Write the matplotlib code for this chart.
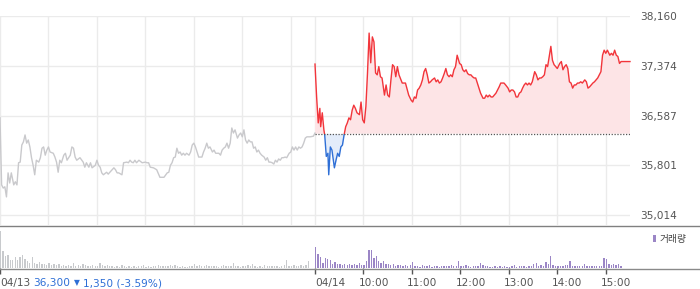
import numpy as np
import matplotlib
matplotlib.use("Agg")
import matplotlib.pyplot as plt
from matplotlib.patches import Rectangle
from matplotlib.lines import Line2D
from matplotlib.transforms import ScaledTranslation

plt.rcParams['font.family'] = ['DejaVu Sans', 'Noto Sans CJK KR']

# price, day 1 (04/13) - minutes after 09:00
day1_min = [0, 2, 4, 6, 8, 10, 12, 14, 17, 19, 21, 23, 25, 27, 29, 31, 33, 35, 37, 39,
            41, 43, 45, 48, 50, 52, 54, 56, 58, 60, 62, 66, 68, 70, 72, 74, 76, 79, 81, 83,
            85, 87, 89, 91, 93, 95, 99, 103, 105, 107, 110, 112, 114, 118, 120, 122, 124,
            126, 128, 132, 134, 136, 141, 143, 145, 147, 151, 153, 157, 159, 161, 163, 165,
            167, 169, 172, 176, 180, 182, 184, 186, 190, 194, 198,
            203, 207, 209, 211, 213, 215, 217, 219, 221, 223, 225, 227, 229, 231, 234, 236,
            238, 240, 242, 244, 246, 250, 252, 254, 256, 258, 260, 263, 265, 267, 271, 273,
            275, 277, 279, 281, 283, 285, 287, 289, 291, 294, 296, 298, 300, 302, 304, 306,
            308, 310, 312, 314, 316, 318, 320, 322, 324, 327, 329, 331, 333, 335, 337, 339,
            341, 343, 345, 347, 349, 351, 353, 355, 358, 360, 362, 364, 366, 368, 370, 372,
            374, 376, 378, 380, 384, 388, 390]
day1_price = [36550, 35490, 35440, 35460, 35300, 35680, 35520, 35680, 35490, 35540,
              35490, 35840, 35850, 36120, 36170, 36280, 36150, 36200, 36090, 35920,
              35800, 35650, 35880, 35850, 35920, 36070, 36090, 35960, 36040, 36090,
              36010, 35990, 35930, 35850, 35690, 35880, 35840, 35960, 35990, 35880,
              35920, 35960, 36090, 36070, 35930, 35880, 35920, 35850, 35770, 35840,
              35770, 35840, 35760, 35800, 35880, 35800, 35770, 35680, 35650, 35690,
              35660, 35690, 35760, 35730, 35680, 35680, 35650, 35840, 35850, 35840,
              35880, 35850, 35840, 35880, 35840, 35880, 35840, 35850, 35840, 35840,
              35770, 35760, 35730, 35610,
              35610, 35680, 35690, 35800, 35840, 35920, 35930, 36070, 35990,
              36010, 35960, 35990, 35960, 35990, 35960, 36010, 36120, 36150, 36090,
              36010, 35930, 35930, 36010, 36070, 36150, 36070, 36090, 36010, 36040,
              35990, 35990, 35960, 36040, 36070, 36090, 36150, 36070, 36150, 36390,
              36310, 36360, 36230, 36280, 36310, 36250, 36360, 36200, 36150, 36200,
              36170, 36170, 36070, 36090, 36010, 36040, 35990, 35960, 35930, 35880,
              35920, 35850, 35850, 35840, 35820, 35880, 35850, 35900, 35880, 35920,
              35920, 35930, 35920, 35990, 36010, 36090, 36040, 36090, 36040, 36090,
              36070, 36090, 36150, 36230, 36250, 36250, 36260, 36310]

# price, day 2 (04/14)
day2_min = [0, 2, 4, 6, 7, 9, 11, 12, 14, 16, 17, 19, 21, 24, 26, 28, 30, 32, 34, 36, 38, 40,
            42, 44, 46, 48, 50, 52, 55, 57, 59, 61, 63, 65, 67, 69, 71, 73, 75, 77, 79, 81,
            83, 86, 88, 90, 92, 94, 96, 98, 100, 102, 104, 108, 112, 116, 119, 121, 123, 125,
            127, 129, 131, 133, 135, 137, 139, 141, 143, 145, 148, 150, 152, 154, 156, 158,
            160, 162, 164, 166, 168, 170, 172, 174, 176, 179, 181, 183, 185, 187, 189, 191,
            193, 195, 197, 199, 201, 203, 205, 208, 210, 212, 214, 216, 218, 220, 222, 224,
            226, 228, 230, 232, 234, 236, 239, 241, 243, 245, 247, 249, 251, 253, 255, 257,
            259, 261, 263, 265, 267, 269, 272, 274, 276, 278, 280, 282, 284, 286, 288, 290,
            292, 294, 296, 298, 300, 303, 305, 307, 309, 311, 313, 315, 317, 319, 321, 323,
            325, 327, 329, 331, 334, 336, 338, 340, 342, 344, 346, 348, 350, 352, 354, 356,
            358, 360, 362, 365, 367, 369, 371, 373, 375, 377, 379, 390]
day2_price = [37400, 36880, 36470, 36700, 36410, 36630, 36360, 36280, 35940, 35990, 35650,
              36090, 36040, 35760, 35880, 35990, 35940, 36090, 36120, 36280, 36410, 36470,
              36550, 36520, 36670, 36750, 36700, 36630, 36600, 36800, 36520, 36470, 36730,
              37260, 37890, 37420, 37830, 37750, 37260, 37230, 37360, 37200, 37180, 36910,
              37070, 36910, 36880, 37150, 37390, 37360, 37200, 37360, 37230, 37100, 37100,
              36910, 36830, 36800, 36880, 36860, 36990, 37020, 37070, 37150, 37280, 37330,
              37230, 37100, 37120, 37150, 37180, 37120, 37150, 37100, 37120, 37180, 37250,
              37330, 37230, 37200, 37230, 37200, 37310, 37360, 37540, 37410, 37390, 37310,
              37280, 37310, 37250, 37230, 37230, 37200, 37180, 37180, 37100, 37020, 36940,
              36860, 36860, 36910, 36880, 36910, 36880, 36880, 36910, 36940, 36990, 37040,
              37100, 37100, 37100, 37070, 37020, 36960, 36990, 36990, 36960, 36880, 36880,
              36940, 36960, 37020, 37070, 37100, 37070, 37100, 37070, 37120, 37280, 37230,
              37150, 37180, 37180, 37200, 37230, 37390, 37360, 37520, 37680, 37460, 37390,
              37360, 37330, 37410, 37440, 37310, 37360, 37390, 37330, 37120, 37100, 37020,
              37070, 37070, 37100, 37100, 37120, 37100, 37150, 37120, 37020, 37040, 37070,
              37100, 37120, 37150, 37180, 37230, 37280, 37540, 37620, 37570, 37620, 37540,
              37570, 37540, 37620, 37540, 37520, 37410, 37440, 37440]
prev_close = 36300

# volume, 3-minute bins (relative units)
vol_day1 = [37, 17, 12, 13, 8, 8, 11, 8, 11, 13, 9, 7, 5, 11, 5, 4, 6, 4, 4, 3,
            5, 3, 4, 3, 4, 2, 3, 2, 3, 2, 5, 2, 3, 2, 4, 3, 2, 2, 3, 2,
            2, 5, 3, 2, 3, 2, 2, 1, 2, 1, 3, 2, 1, 2, 1, 2, 1, 2, 2, 3,
            1, 2, 1, 2, 2, 3, 2, 2, 2, 2, 3, 2, 3, 2, 1, 2, 1, 1, 2, 2,
            4, 2, 3, 2, 2, 3, 2, 2, 2, 2, 1, 2, 3, 2, 2, 2, 5, 2, 2, 1,
            2, 2, 3, 2, 4, 2, 1, 2, 1, 3, 2, 2, 2, 2, 2, 1, 2, 3, 8, 2,
            2, 3, 2, 2, 3, 2, 3, 7, 0, 0]
vol_day2 = [21, 14, 11, 5, 10, 9, 8, 4, 6, 4, 4, 3, 4, 3, 4, 3, 4, 3, 5, 3,
            3, 7, 18, 18, 10, 12, 7, 5, 7, 4, 4, 3, 4, 2, 3, 3, 2, 3, 2, 3,
            6, 2, 2, 1, 3, 2, 2, 3, 1, 2, 2, 1, 2, 2, 2, 2, 3, 2, 2, 7,
            2, 2, 3, 2, 1, 2, 2, 2, 5, 3, 2, 2, 1, 1, 2, 1, 2, 1, 2, 1,
            1, 2, 3, 1, 2, 2, 2, 1, 2, 2, 4, 5, 2, 3, 2, 6, 4, 12, 3, 2,
            2, 2, 2, 3, 3, 7, 2, 2, 2, 2, 2, 4, 2, 2, 2, 2, 2, 2, 2, 10,
            9, 4, 3, 4, 3, 4, 2, 0, 0, 0, 11]

y_ticks = [35014, 35801, 36587, 37374, 38160]
hour_labels = ['10:00', '11:00', '12:00', '13:00', '14:00', '15:00']

red = '#f2353b'
blue = '#2e6fd6'
grid_c = '#ebebeb'

W, H = 700, 289
fig = plt.figure(figsize=(7, 2.89), dpi=100)
ax = fig.add_axes([0, 64 / H, 630 / W, 209 / H])
axv = fig.add_axes([0, 21 / H, 630 / W, 43 / H])

t1 = np.array(day1_min)
p1 = np.array(day1_price)
t2 = 390 + np.array(day2_min)
p2 = np.array(day2_price)

# grid
for yt in y_ticks:
    ax.axhline(yt, color=grid_c, lw=1, zorder=0)
for xt in [0, 60, 120, 180, 240, 300, 360, 390, 450, 510, 570, 630, 690, 750]:
    ax.axvline(xt, color=grid_c, lw=1, zorder=0)

ax.plot(t1, p1, color='#c9c9cc', lw=1)

ax.fill_between(t2, p2, prev_close, where=p2 >= prev_close, interpolate=True,
                color='#fde4e6', lw=0)
ax.fill_between(t2, p2, prev_close, where=p2 <= prev_close, interpolate=True,
                color='#e3ecfa', lw=0)
up, = ax.plot(t2, p2, color=red, lw=1.0)
up.set_clip_path(Rectangle((380, prev_close), 420, 5000, transform=ax.transData))
dn, = ax.plot(t2, p2, color=blue, lw=1.0)
dn.set_clip_path(Rectangle((380, prev_close - 5000), 420, 5000, transform=ax.transData))
ax.plot([390, 780], [prev_close, prev_close], color='#555555', lw=0.9, ls=(0, (1, 1.3)))

ax.set_xlim(0, 780)
ax.set_ylim(34856, 38160)
ax.yaxis.tick_right()
ax.set_yticks(y_ticks)
ax.set_yticklabels([f'{v:,}' for v in y_ticks])
ax.tick_params(axis='y', length=0, pad=7, labelsize=7.6, labelcolor='#555555')
ax.set_xticks([])
for s in ax.spines.values():
    s.set_visible(False)

# volume
axv.bar(np.arange(len(vol_day1)) * 3, vol_day1, width=1.7, align='edge',
        color='#c8cacd', lw=0)
axv.bar(390 + np.arange(len(vol_day2)) * 3, vol_day2, width=1.7, align='edge',
        color='#9b86c6', lw=0, label='거래량')
axv.set_xlim(0, 780)
axv.set_ylim(0, 43)
axv.set_yticks([])
for s in axv.spines.values():
    s.set_visible(False)
xt = [0, 390, 450, 510, 570, 630, 690, 750]
axv.set_xticks(xt)
axv.set_xticklabels(['04/13', '04/14'] + hour_labels)
axv.tick_params(axis='x', length=4, width=1, color='#555555', pad=3,
                labelsize=7.6, labelcolor='#555555')
for i, lab in enumerate(axv.get_xticklabels()):
    lab.set_ha('left')
    if i >= 2:
        lab.set_transform(lab.get_transform() + ScaledTranslation(-0.05, 0, fig.dpi_scale_trans))

fig.legend(loc='upper left', bbox_to_anchor=(648 / W, 1 - 229 / H), frameon=False,
           fontsize=7, handlelength=0.35, handleheight=0.8, handletextpad=0.3,
           borderpad=0, labelcolor='#444444')

# separator lines
fig.add_artist(Line2D([0, 1], [1 - 225.5 / H] * 2, color='#808080', lw=1))
fig.add_artist(Line2D([0, 1], [1 - 268.5 / H] * 2, color='#8a8a8a', lw=1))

fig.text(33 / W, 1 - 283 / H, '36,300', color=blue, fontsize=7.6, va='center')
fig.text(74 / W, 1 - 282.5 / H, '▼', color=blue, fontsize=5.5, va='center')
fig.text(83 / W, 1 - 283 / H, '1,350 (-3.59%)', color=blue, fontsize=7.6, va='center')

fig.savefig('out.png', dpi=100)
